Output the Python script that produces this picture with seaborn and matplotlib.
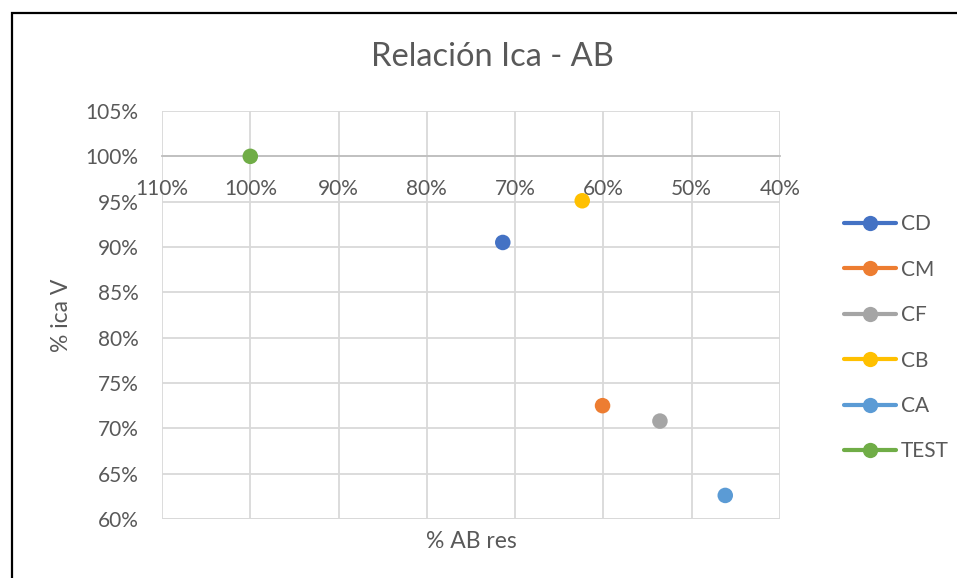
import matplotlib
matplotlib.use("Agg")
import matplotlib.pyplot as plt
from matplotlib.lines import Line2D
from matplotlib.patches import Rectangle
from matplotlib.ticker import PercentFormatter, MultipleLocator
import pandas as pd
import seaborn as sns

# Series data: residual AB fraction vs. Ica V fraction
series = ["CD", "CM", "CF", "CB", "CA", "TEST"]
ab_res = [0.714, 0.601, 0.536, 0.624, 0.462, 1.00]
ica_v = [0.905, 0.725, 0.708, 0.951, 0.626, 1.00]
colors = ["#4472C4", "#ED7D31", "#A5A5A5", "#FFC000", "#5B9BD5", "#70AD47"]

df = pd.DataFrame({"serie": series, "ab": ab_res, "ica": ica_v})

sns.set_theme(style="white")
plt.rcParams["font.family"] = ["Lato", "DejaVu Sans"]
text_color = "#595959"

fig = plt.figure(figsize=(9.57, 5.78), dpi=100)
ax = fig.add_axes([162 / 957, 1 - 519 / 578, (780 - 162) / 957, (519 - 111) / 578])

sns.scatterplot(data=df, x="ab", y="ica", hue="serie", hue_order=series,
                palette=colors, s=125, edgecolor="none", legend=False,
                ax=ax, zorder=5)

ax.set_xlim(1.10, 0.40)
ax.set_ylim(0.60, 1.05)
ax.xaxis.set_major_locator(MultipleLocator(0.10))
ax.yaxis.set_major_locator(MultipleLocator(0.05))
ax.xaxis.set_major_formatter(PercentFormatter(1.0, decimals=0))
ax.yaxis.set_major_formatter(PercentFormatter(1.0, decimals=0))

ax.grid(True, color="#D9D9D9", linewidth=1.3)
ax.set_axisbelow(True)
for side in ["top", "right", "left"]:
    ax.spines[side].set_visible(False)
# horizontal axis crosses at 100%
ax.spines["bottom"].set_position(("data", 1.0))
ax.spines["bottom"].set_color("#BFBFBF")
ax.spines["bottom"].set_linewidth(1.3)
ax.axhline(0.60, color="#D9D9D9", linewidth=1.3, zorder=0)

ax.tick_params(axis="x", length=0, pad=16, labelsize=15, colors=text_color)
ax.tick_params(axis="y", length=0, pad=17, labelsize=15, colors=text_color)

ax.set_xlabel("")
ax.set_ylabel("")
fig.text(471 / 957, 1 - 541 / 578, "% AB res", ha="center", va="center",
         fontsize=16.5, color=text_color)
fig.text(62 / 957, 1 - 315 / 578, "% ica V", ha="center", va="center",
         rotation=90, fontsize=16.5, color=text_color)
fig.text(492 / 957, 1 - 57 / 578, "Relación Ica - AB", ha="center", va="center",
         fontsize=23.5, color=text_color)

handles = [Line2D([0], [0], color=c, linewidth=3, marker="o", markersize=11,
                  markeredgewidth=0) for c in colors]
fig.legend(handles, series, loc="upper left", bbox_to_anchor=(836 / 957, 1 - 206 / 578),
           frameon=False, fontsize=15, labelcolor=text_color, handlelength=2.5,
           handletextpad=0.2, labelspacing=1.22, borderaxespad=0)

# chart frame
fig.patches.append(Rectangle((12 / 957, -0.1), 1.2, 1 - 13 / 578 + 0.1,
                             transform=fig.transFigure, fill=False,
                             edgecolor="black", linewidth=1.6))

fig.savefig("out.png", dpi=100)
